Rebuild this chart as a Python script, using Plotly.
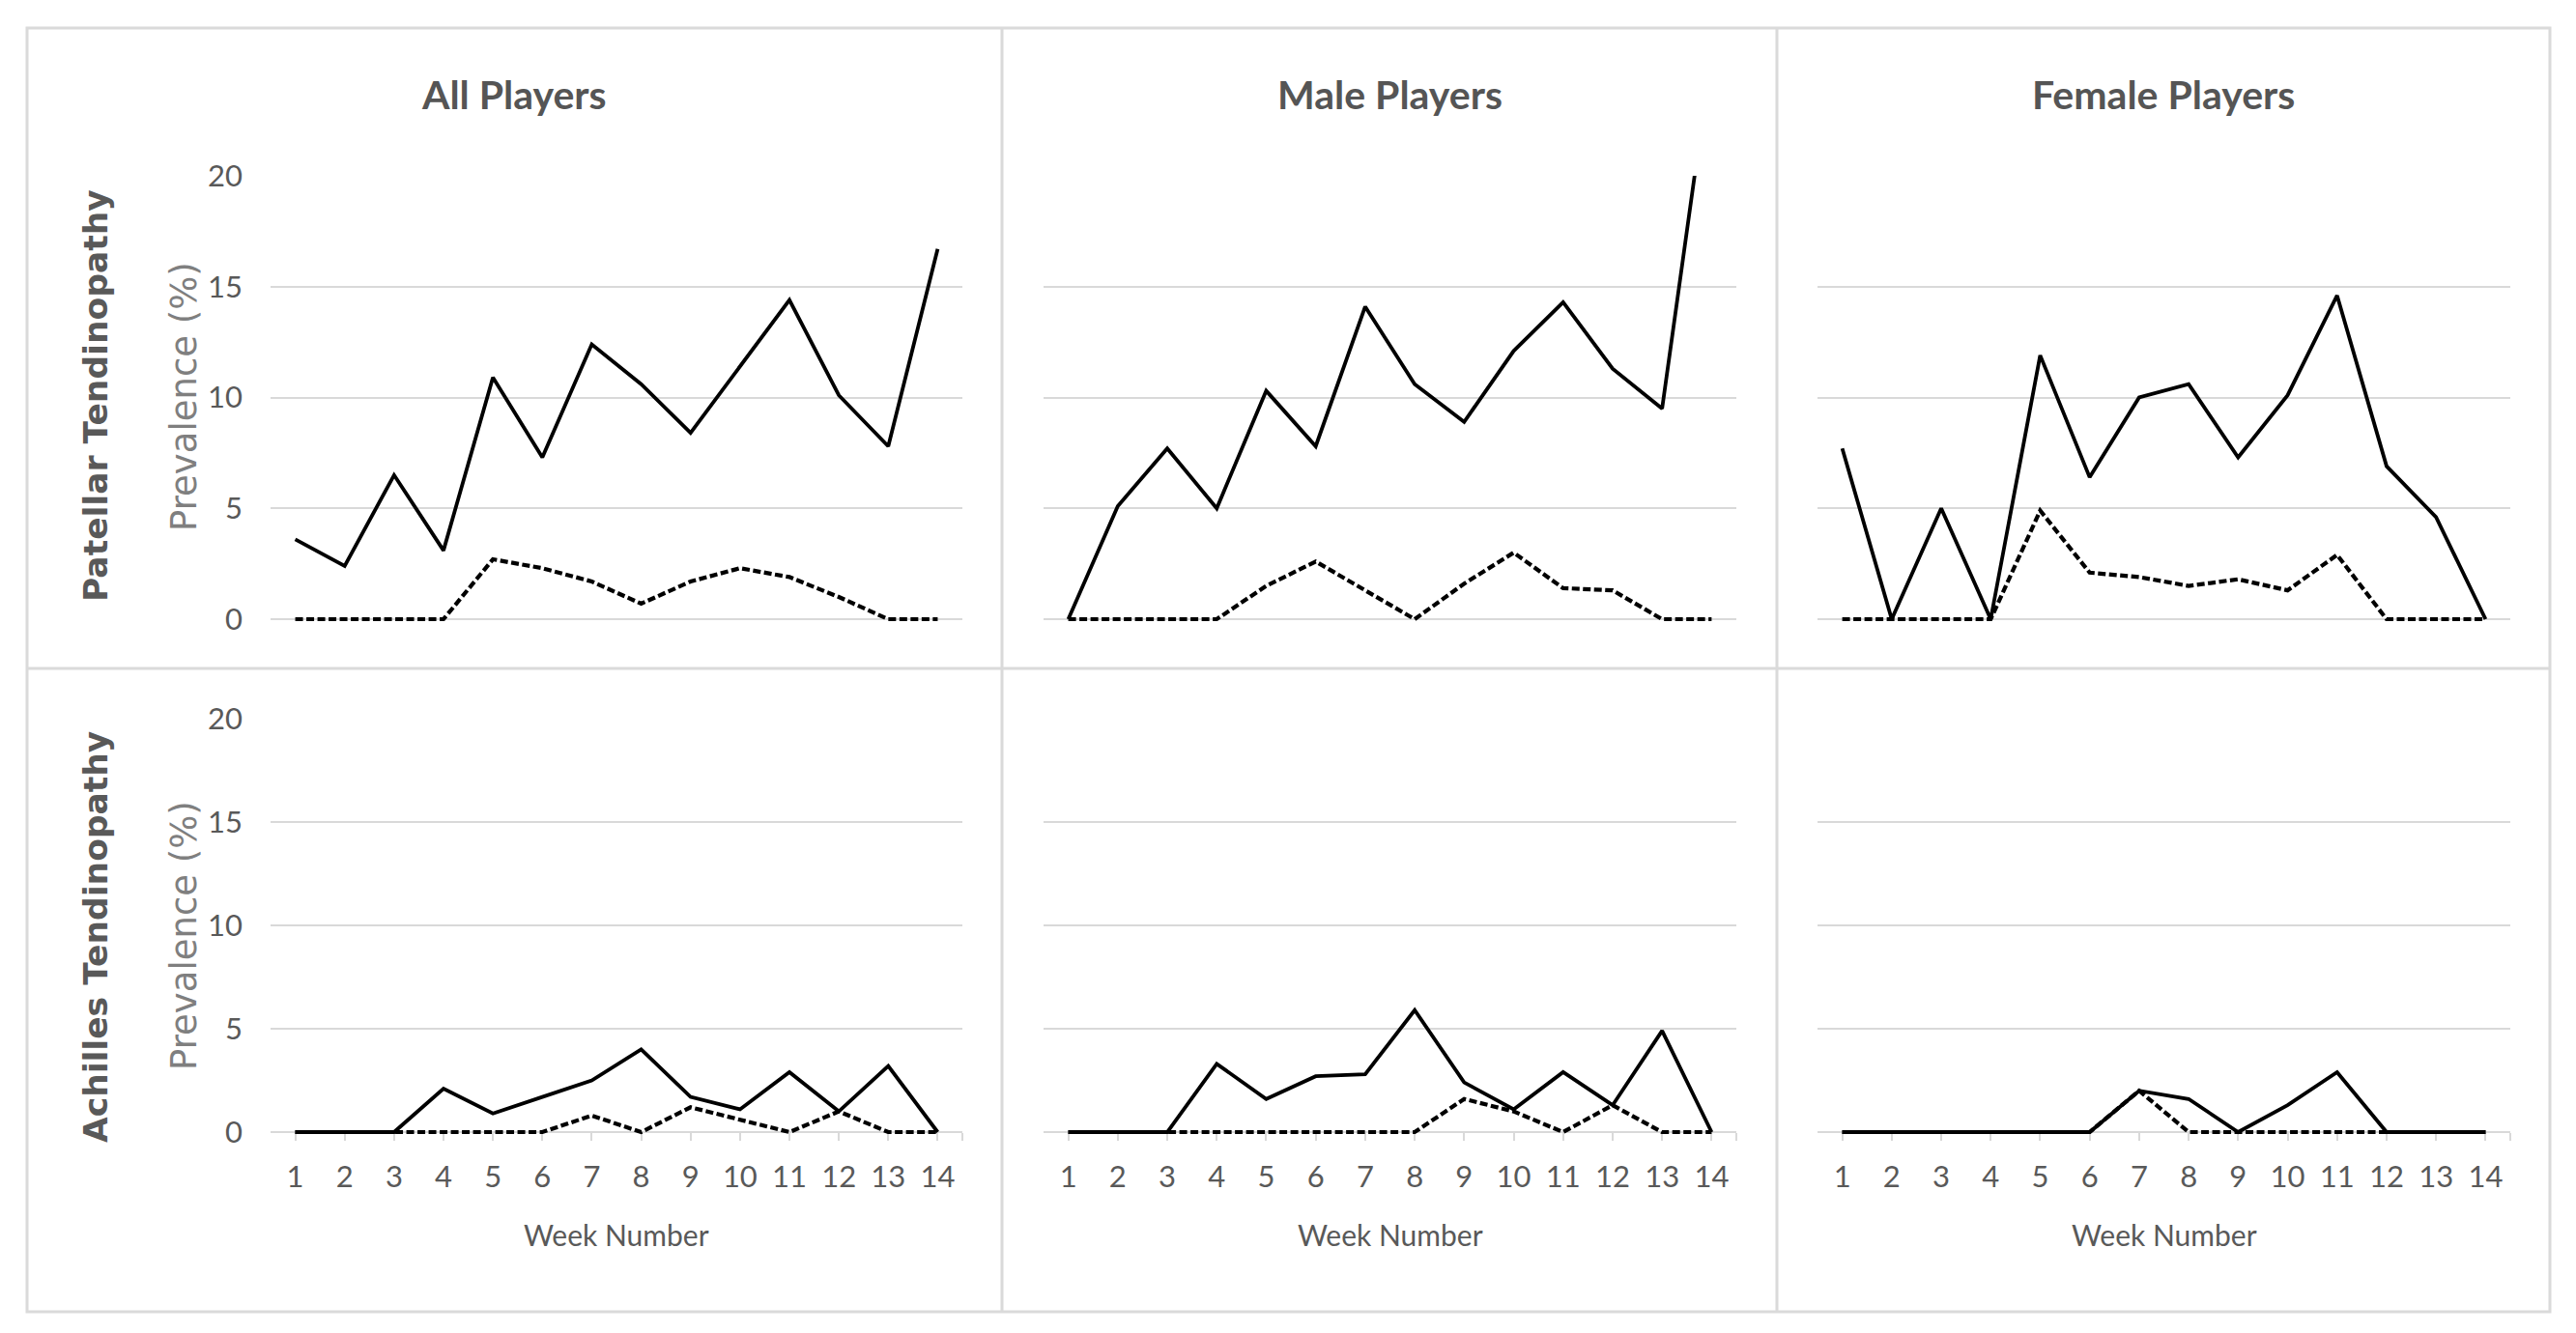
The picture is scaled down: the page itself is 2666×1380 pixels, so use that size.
import plotly.graph_objects as go

W, H = 2666, 1380
OFF = 8  # page body margin shift compensation

weeks = list(range(1, 15))
week_labels = [str(w) for w in weeks]
y_ticks = [0, 5, 10, 15, 20]

col_titles = ["All Players", "Male Players", "Female Players"]
row_titles = ["Patellar Tendinopathy", "Achilles Tendinopathy"]

# Patellar tendinopathy (top row): solid and dashed series
pat_all_solid = [3.6, 2.4, 6.5, 3.1, 10.9, 7.3, 12.4, 10.6, 8.4, 11.4, 14.4, 10.1, 7.8, 16.7]
pat_all_dash = [0, 0, 0, 0, 2.7, 2.3, 1.7, 0.7, 1.7, 2.3, 1.9, 1.0, 0, 0]
pat_male_solid = [0, 5.1, 7.7, 5.0, 10.3, 7.8, 14.1, 10.6, 8.9, 12.1, 14.3, 11.3, 9.5, 25.5]
pat_male_dash = [0, 0, 0, 0, 1.5, 2.6, 1.3, 0, 1.6, 3.0, 1.4, 1.3, 0, 0]
pat_female_solid = [7.7, 0, 5.0, 0, 11.9, 6.4, 10.0, 10.6, 7.3, 10.1, 14.6, 6.9, 4.6, 0]
pat_female_dash = [0, 0, 0, 0, 4.9, 2.1, 1.9, 1.5, 1.8, 1.3, 2.9, 0, 0, 0]

# Achilles tendinopathy (bottom row)
ach_all_solid = [0, 0, 0, 2.1, 0.9, 1.7, 2.5, 4.0, 1.7, 1.1, 2.9, 1.0, 3.2, 0]
ach_all_dash = [0, 0, 0, 0, 0, 0, 0.8, 0, 1.2, 0.6, 0, 1.0, 0, 0]
ach_male_solid = [0, 0, 0, 3.3, 1.6, 2.7, 2.8, 5.9, 2.4, 1.1, 2.9, 1.3, 4.9, 0]
ach_male_dash = [0, 0, 0, 0, 0, 0, 0, 0, 1.6, 1.0, 0, 1.3, 0, 0]
ach_female_solid = [0, 0, 0, 0, 0, 0, 2.0, 1.6, 0, 1.3, 2.9, 0, 0, 0]
ach_female_dash = [0, 0, 0, 0, 0, 0, 2.0, 0, 0, 0, 0, 0, 0, 0]

series = [
    (pat_all_solid, pat_all_dash),
    (pat_male_solid, pat_male_dash),
    (pat_female_solid, pat_female_dash),
    (ach_all_solid, ach_all_dash),
    (ach_male_solid, ach_male_dash),
    (ach_female_solid, ach_female_dash),
]

def px(x):
    return (x - OFF) / W

def py(y):
    return 1 - (y - OFF) / H

x_domains = [(280, 996), (1080, 1797), (1881, 2598)]
# pixel rows: (value-0 line, value-20 line)
y_rows = [(641, 182), (1172, 744)]
Y_MAX = 20
Y_PAD = 0.35  # small room below zero so lines lying on zero are not half clipped

SANS = "Lato, Roboto, sans-serif"
GRAY_TXT = "#595959"
GRID = "#d9d9d9"

fig = go.Figure()
layout = dict(
    width=W, height=H,
    margin=dict(l=0, r=0, t=0, b=0, pad=0, autoexpand=False),
    paper_bgcolor="white", plot_bgcolor="white",
    showlegend=False,
)

for i, (solid, dash) in enumerate(series):
    r, c = divmod(i, 3)
    n = i + 1
    xa = "x" if n == 1 else f"x{n}"
    ya = "y" if n == 1 else f"y{n}"
    fig.add_trace(go.Scatter(x=weeks, y=dash, mode="lines", xaxis=xa, yaxis=ya,
                             line=dict(color="black", width=4.2, dash="8px,3.5px"),
                             hoverinfo="skip"))
    fig.add_trace(go.Scatter(x=weeks, y=solid, mode="lines", xaxis=xa, yaxis=ya,
                             line=dict(color="black", width=3.8),
                             hoverinfo="skip"))
    xd = x_domains[c]
    zero_px, top_px = y_rows[r]
    ppu = (zero_px - top_px) / Y_MAX
    bottom_px = zero_px + Y_PAD * ppu
    xkey = "xaxis" if n == 1 else f"xaxis{n}"
    ykey = "yaxis" if n == 1 else f"yaxis{n}"
    bottom = (r == 1)
    layout[xkey] = dict(
        domain=[px(xd[0]), px(xd[1])],
        anchor="free",
        position=py(zero_px),
        range=[0.5, 14.5],
        tickvals=weeks + [14.5] if bottom else [],
        ticktext=week_labels + [""] if bottom else [],
        showticklabels=bottom,
        ticks="outside" if bottom else "",
        ticklen=8, tickwidth=2, tickcolor=GRID,
        showline=bottom, linecolor=GRID, linewidth=2,
        layer="below traces",
        showgrid=False, zeroline=False,
        tickfont=dict(family=SANS, size=31, color=GRAY_TXT),
        ticklabelstandoff=11,
        automargin=False,
        fixedrange=True,
    )
    layout[ykey] = dict(
        domain=[py(bottom_px), py(top_px)],
        anchor=xa,
        range=[-Y_PAD, Y_MAX],
        tickvals=y_ticks,
        showticklabels=(c == 0),
        ticks="",
        showgrid=True, gridcolor=GRID, gridwidth=2,
        zeroline=False, showline=False,
        layer="below traces",
        tickfont=dict(family=SANS, size=31, color=GRAY_TXT),
        ticklabelstandoff=28,
        automargin=False,
        fixedrange=True,
    )

annotations = []
col_centers = [532, 1438, 2239]
for t, cx in zip(col_titles, col_centers):
    annotations.append(dict(text=f"<b>{t}</b>", x=px(cx), y=py(97), xref="paper", yref="paper",
                            showarrow=False, xanchor="center", yanchor="middle",
                            font=dict(family=SANS, size=41, color="#555555")))
row_centers = [410, 970]
prev_centers = [411, 969]
for t, cy, pcy in zip(row_titles, row_centers, prev_centers):
    annotations.append(dict(text=f"<b>{t}</b>", x=px(99), y=py(cy), xref="paper", yref="paper",
                            showarrow=False, textangle=-90, xanchor="center", yanchor="middle",
                            font=dict(family="DejaVu Sans", size=34.5, color=GRAY_TXT)))
    annotations.append(dict(text="Prevalence (%)", x=px(190), y=py(pcy), xref="paper", yref="paper",
                            showarrow=False, textangle=-90, xanchor="center", yanchor="middle",
                            font=dict(family="DejaVu Sans", size=37, color="#7f7f7f")))
for xd in x_domains:
    annotations.append(dict(text="Week Number", x=px((xd[0] + xd[1]) / 2), y=py(1278),
                            xref="paper", yref="paper", showarrow=False,
                            xanchor="center", yanchor="middle",
                            font=dict(family=SANS, size=30, color=GRAY_TXT)))
layout["annotations"] = annotations

frame = "#dadada"
shapes = [
    dict(type="rect", xref="paper", yref="paper", x0=px(28), x1=px(2639), y0=py(1358), y1=py(29),
         line=dict(color=frame, width=3)),
    dict(type="line", xref="paper", yref="paper", x0=px(28), x1=px(2639), y0=py(692), y1=py(692),
         line=dict(color=frame, width=3)),
    dict(type="line", xref="paper", yref="paper", x0=px(1037), x1=px(1037), y0=py(1358), y1=py(29),
         line=dict(color=frame, width=3)),
    dict(type="line", xref="paper", yref="paper", x0=px(1839), x1=px(1839), y0=py(1358), y1=py(29),
         line=dict(color=frame, width=3)),
]
layout["shapes"] = shapes

fig.update_layout(**layout)
fig.write_html("out.html")
